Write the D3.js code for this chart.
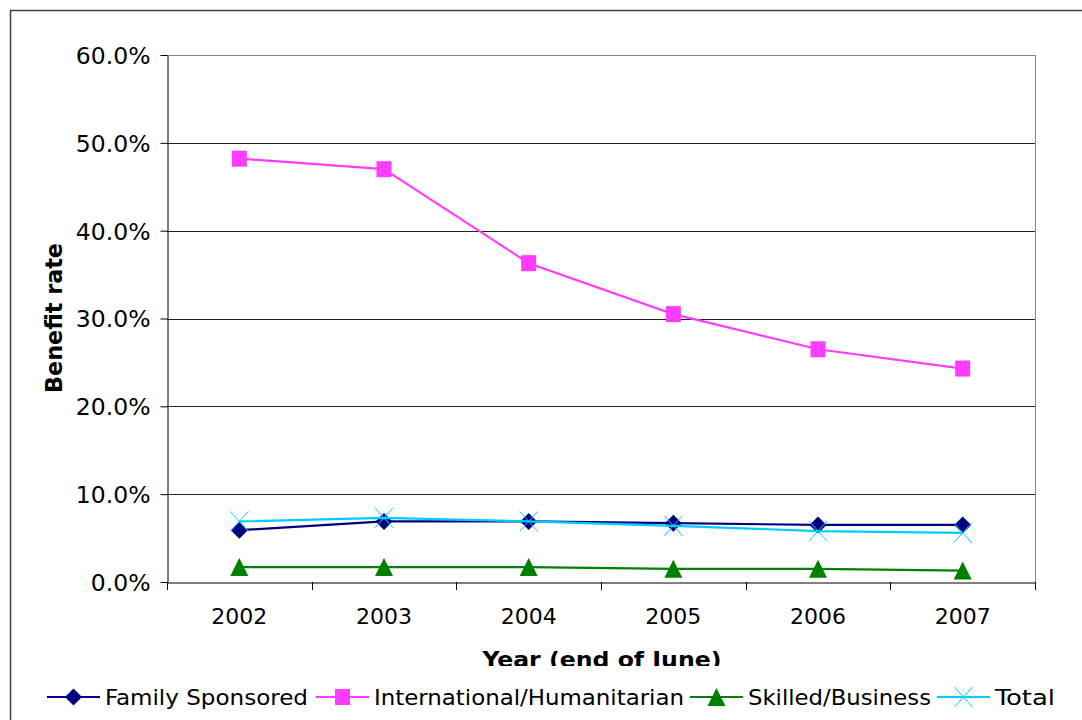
<!DOCTYPE html>
<html>
<head>
<meta charset="utf-8">
<script src="https://cdn.jsdelivr.net/npm/d3@7"></script>
<style>
  body { margin: 0; background: #fff; }
  svg { display: block; }
</style>
</head>
<body>
<svg id="svg"></svg>
<script>
// values (fractions)
const years = ["2002", "2003", "2004", "2005", "2006", "2007"];
const family = [0.059, 0.069, 0.069, 0.067, 0.065, 0.065];
const humanitarian = [0.482, 0.470, 0.363, 0.305, 0.265, 0.243];
const skilled = [0.017, 0.017, 0.017, 0.015, 0.015, 0.013];
const total = [0.069, 0.073, 0.069, 0.064, 0.058, 0.056];
const yTicks = [0, 0.1, 0.2, 0.3, 0.4, 0.5, 0.6];

const series = [
    {name: "Family Sponsored", values: family, color: "#000080", marker: "diamond", lw: 203},
    {name: "International/Humanitarian", values: humanitarian, color: "#ff3cff", marker: "square", lw: 310},
    {name: "Skilled/Business", values: skilled, color: "#008000", marker: "triangle", lw: 183},
    {name: "Total", values: total, color: "#00ccff", marker: "cross", lw: 60}
];

const W = 1082, H = 720;
const plotL = 167, plotR = 1035, plotT = 55, plotB = 582;
const fontMain = "'DejaVu Sans', Verdana, sans-serif";
const fontCond = "'DejaVu Sans Condensed', 'DejaVu Sans', sans-serif";

const svg = d3.select("#svg")
    .attr("width", W)
    .attr("height", H)
    .attr("font-family", fontMain);

// outer frame
svg.append("path")
    .attr("d", `M10.5,${H} V10.5 H${W}`)
    .attr("fill", "none")
    .attr("stroke", "#404040")
    .attr("stroke-width", 1.5);

const x = d3.scaleBand().domain(years).range([plotL, plotR]);
const y = d3.scaleLinear().domain([0, 0.6]).range([plotB, plotT]);

// gridlines
svg.append("g")
    .selectAll("line")
    .data(yTicks.filter(d => d > 0))
    .join("line")
    .attr("x1", plotL).attr("x2", plotR)
    .attr("y1", d => Math.round(y(d)) + 0.5)
    .attr("y2", d => Math.round(y(d)) + 0.5)
    .attr("stroke", d => d === 0.6 ? "#888" : "#222")
    .attr("stroke-width", 1);

// right border of plot
svg.append("line")
    .attr("x1", plotR + 0.5).attr("x2", plotR + 0.5)
    .attr("y1", plotT).attr("y2", plotB)
    .attr("stroke", "#888");

// y axis
const yAxis = svg.append("g")
    .attr("transform", `translate(${plotL + 0.5},0)`)
    .call(d3.axisLeft(y).tickValues(yTicks).tickFormat(d3.format(".1%")).tickSize(7).tickSizeOuter(0))
    .attr("font-family", fontMain)
    .attr("font-size", 23.5);
yAxis.select(".domain").attr("stroke", "#000");
yAxis.selectAll(".tick text")
    .attr("fill", "#000")
    .attr("x", -17)
    .attr("dy", "0.36em");

// x axis
const xAxis = svg.append("g")
    .attr("transform", `translate(0,${plotB + 0.5})`)
    .call(d3.axisBottom(x).tickSize(0).tickSizeOuter(0))
    .attr("font-family", fontMain)
    .attr("font-size", 22);
xAxis.select(".domain").attr("stroke", "#000");
xAxis.selectAll(".tick text")
    .attr("fill", "#000")
    .attr("y", 0)
    .attr("dy", "1.9em");

// x tick marks at band boundaries
svg.append("g")
    .selectAll("line")
    .data(years.concat(["end"]))
    .join("line")
    .attr("x1", (d, i) => Math.round(plotL + i * x.step()) + 0.5)
    .attr("x2", (d, i) => Math.round(plotL + i * x.step()) + 0.5)
    .attr("y1", plotB).attr("y2", plotB + 8)
    .attr("stroke", "#000");

// series
const line = d3.line()
    .x((d, i) => x(years[i]) + x.bandwidth() / 2)
    .y(d => y(d));

const markerPath = {
    diamond: "M0,-8.5 L8.5,0 L0,8.5 L-8.5,0 Z",
    square: "M-7.5,-8 H7.5 V8 H-7.5 Z",
    triangle: "M0,-9 L9,9 L-9,9 Z",
    cross: "M-9,-10 L9,10 M-9,10 L9,-10"
};

series.forEach(s => {
    const g = svg.append("g");
    g.append("path")
        .datum(s.values)
        .attr("d", line)
        .attr("fill", "none")
        .attr("stroke", s.color)
        .attr("stroke-width", 2.2);
    g.selectAll("path.m")
        .data(s.values)
        .join("path")
        .attr("class", "m")
        .attr("transform", (d, i) => `translate(${x(years[i]) + x.bandwidth() / 2},${y(d)})`)
        .attr("d", markerPath[s.marker])
        .attr("fill", s.marker === "cross" ? "none" : s.color)
        .attr("stroke", s.color)
        .attr("stroke-width", s.marker === "cross" ? 1 : 0);
});

// y title
svg.append("text")
    .attr("transform", "translate(62,318) rotate(-90)")
    .attr("text-anchor", "middle")
    .attr("font-size", 23)
    .attr("font-weight", "bold")
    .attr("textLength", 150)
    .attr("lengthAdjust", "spacingAndGlyphs")
    .text("Benefit rate");

// x title, clipped like the original
svg.append("clipPath").attr("id", "cut")
    .append("rect").attr("x", 0).attr("y", 0).attr("width", W).attr("height", 666);
svg.append("text")
    .attr("clip-path", "url(#cut)")
    .attr("x", 602)
    .attr("y", 667)
    .attr("text-anchor", "middle")
    .attr("font-family", fontCond)
    .attr("font-size", 21)
    .attr("font-weight", "bold")
    .attr("textLength", 239)
    .attr("lengthAdjust", "spacingAndGlyphs")
    .text("Year (end of June)");

// legend
const legX = [47, 316, 690, 937];
const legend = svg.append("g")
    .attr("font-family", fontCond)
    .attr("font-size", 21);
series.forEach((s, i) => {
    const g = legend.append("g").attr("transform", `translate(${legX[i]},697)`);
    g.append("line")
        .attr("x1", 0).attr("x2", 53)
        .attr("stroke", s.color).attr("stroke-width", 2.2);
    g.append("path")
        .attr("transform", "translate(26.5,0)")
        .attr("d", markerPath[s.marker])
        .attr("fill", s.marker === "cross" ? "none" : s.color)
        .attr("stroke", s.color)
        .attr("stroke-width", s.marker === "cross" ? 1 : 0);
    g.append("text")
        .attr("x", 58)
        .attr("y", 8)
        .attr("textLength", s.lw)
        .attr("lengthAdjust", "spacingAndGlyphs")
        .text(s.name);
});
</script>
</body>
</html>
